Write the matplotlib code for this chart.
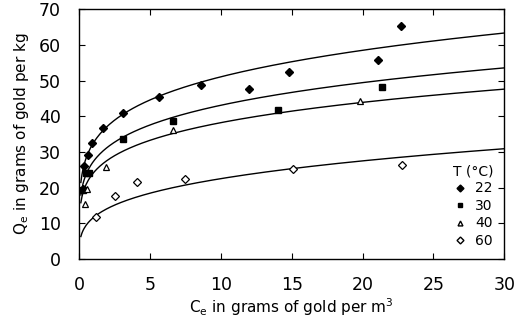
import numpy as np
import matplotlib
matplotlib.use("Agg")
import matplotlib.pyplot as plt
from matplotlib.lines import Line2D

# Data
temps = ["22", "30", "40", "60"]
c22 = [0.3, 0.35, 0.64, 0.92, 1.7, 3.1, 5.6, 8.6, 12.0, 14.8, 21.1, 22.7]
q22 = [19.5, 26.0, 29.0, 32.5, 36.6, 41.0, 45.5, 48.8, 47.5, 52.4, 55.8, 65.2]
c30 = [0.3, 0.45, 0.7, 3.1, 6.6, 14.0, 21.4]
q30 = [19.3, 24.0, 24.2, 33.6, 38.6, 41.8, 48.3]
c40 = [0.4, 0.55, 1.9, 6.6, 19.8]
q40 = [15.4, 19.5, 25.8, 36.0, 44.4]
c60 = [1.2, 2.5, 4.1, 7.5, 15.1, 22.8]
q60 = [11.8, 17.6, 21.6, 22.4, 25.3, 26.3]

# Freundlich fit parameters (K, 1/n)
fit_K = [32.5, 27.3, 24.1, 11.6]
fit_inv_n = [0.196, 0.198, 0.200, 0.288]

xticks = [0, 5, 10, 15, 20, 25, 30]
yticks = [0, 10, 20, 30, 40, 50, 60, 70]

plt.rcParams['font.family'] = ['DejaVu Sans']

fig = plt.figure(figsize=(5.14, 3.25), dpi=100)
ax = fig.add_axes([0.154, 0.203, 0.827, 0.769])

cgrid = np.linspace(0.12, 30, 400)
for K, m in zip(fit_K, fit_inv_n):
    ax.plot(cgrid, K * cgrid ** m, color='black', lw=1.0)

ms = 4.5
ax.plot(c22, q22, linestyle='none', marker='D', ms=ms, mfc='black', mec='black')
ax.plot(c30, q30, linestyle='none', marker='s', ms=ms, mfc='black', mec='black')
ax.plot(c40, q40, linestyle='none', marker='^', ms=ms, mfc='white', mec='black', mew=0.9)
ax.plot(c60, q60, linestyle='none', marker='D', ms=ms, mfc='white', mec='black', mew=0.9)

ax.set_xlim(0, 30)
ax.set_ylim(0, 70)
ax.set_xticks(xticks)
ax.set_yticks(yticks)
ax.tick_params(direction='in', length=4, width=0.8, top=True, right=True,
               labelsize=12.5)
ax.tick_params(axis='y', pad=13)
ax.tick_params(axis='x', pad=12)
for s in ax.spines.values():
    s.set_linewidth(1.0)

ax.set_xlabel(r"C$_\mathrm{e}$ in grams of gold per m$^3$", fontsize=11, labelpad=2)
ax.set_ylabel(r"Q$_\mathrm{e}$ in grams of gold per kg", fontsize=11, labelpad=6)

handles = [
    Line2D([], [], linestyle='none', marker='D', ms=3.5, mfc='black', mec='black'),
    Line2D([], [], linestyle='none', marker='s', ms=3.5, mfc='black', mec='black'),
    Line2D([], [], linestyle='none', marker='^', ms=3.5, mfc='white', mec='black'),
    Line2D([], [], linestyle='none', marker='D', ms=3.5, mfc='white', mec='black'),
]
leg = ax.legend(handles, temps, title="T (°C)", loc='lower right',
                frameon=False, fontsize=10, title_fontsize=10,
                handlelength=1.0, handletextpad=0.6, labelspacing=0.25,
                borderaxespad=0.4)

fig.savefig("out.png", dpi=100)
